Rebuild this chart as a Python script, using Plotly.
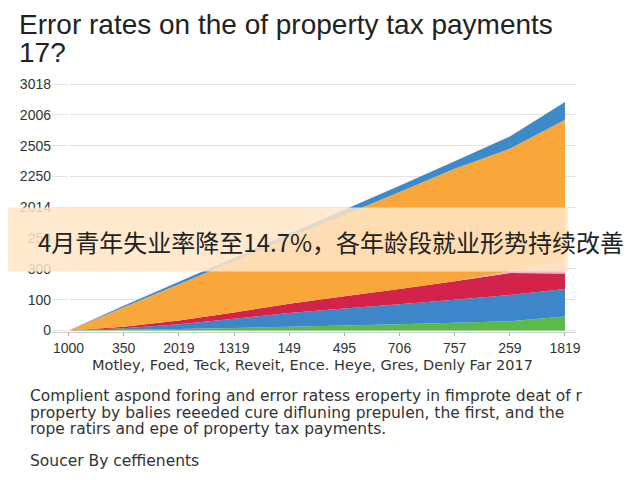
import plotly.graph_objects as go

x_labels = ["1000","350","2019","1319","149","495","706","757","259","1819"]
y_labels = ["0","100","300","250","2014","2250","2505","2006","3018"]
green = [0,0.02,0.05,0.08,0.12,0.16,0.2,0.25,0.3,0.45]
blue = [0,0.05,0.15,0.3,0.45,0.55,0.65,0.75,0.85,0.9]
red = [0,0.05,0.12,0.2,0.3,0.4,0.5,0.6,0.72,0.5]
pink = [0,0,0,0,0,0,0,0,0.05,0.45]
orange = [0,0.63,1.18,1.67,2.13,2.64,3.15,3.65,3.98,4.54]
top_blue = [0,0.05,0.08,0.11,0.14,0.17,0.2,0.25,0.4,0.58]

xs = list(range(len(x_labels)))
fig = go.Figure()
for vals, col in [(green,"#5cb848"),(blue,"#3d87c8"),(red,"#d4234a"),(pink,"#f0b6c6"),(orange,"#f9a73a"),(top_blue,"#3d8ac8")]:
    fig.add_trace(go.Scatter(x=xs, y=vals, stackgroup="a", mode="none", fillcolor=col, line=dict(width=0)))

fig.update_layout(
    width=640, height=480, paper_bgcolor="white", plot_bgcolor="white",
    margin=dict(l=44, r=72, t=70, b=156), showlegend=False,
    font=dict(family="Liberation Sans, Arial", color="#333"),
    xaxis=dict(range=[-0.3,9.2], tickvals=xs, ticktext=x_labels, showgrid=False, automargin=False,
               ticks="outside", ticklen=3, tickcolor="#aaa", tickfont=dict(size=14), showline=True, linecolor="#ccc"),
    yaxis=dict(range=[-0.05,8.2], tickvals=list(range(len(y_labels))), ticktext=y_labels, automargin=False,
               gridcolor="#e3e3e3", tickfont=dict(size=14), zeroline=False),
)
def txt(t, x, y, size, xanchor="left", family=None, color="#333"):
    f = dict(size=size, color=color)
    if family:
        f["family"] = family
    fig.add_annotation(xref="paper", yref="paper", x=x, y=y, xanchor=xanchor, yanchor="middle",
                       showarrow=False, text=t, font=f)
txt("Error rates on the of property tax payments", -0.066, 1.212, 28, color="#222")
txt("17?", -0.066, 1.1, 28, color="#222")
txt("Motley, Foed, Teck, Reveit, Ence. Heye, Gres, Denly Far 2017", 0.498, -0.128, 14.5, xanchor="center", family="DejaVu Sans")
cap = "DejaVu Sans"
txt("Complient aspond foring and error ratess eroperty in fimprote deat of r", -0.046, -0.25, 15.5, family=cap)
txt("property by balies reeeded cure difluning prepulen, the first, and the", -0.046, -0.317, 15.5, family=cap)
txt("rope ratirs and epe of property tax payments.", -0.046, -0.382, 15.5, family=cap)
txt("Soucer By ceffienents", -0.046, -0.506, 15.5, family=cap)
fig.add_shape(type="rect", xref="paper", yref="paper", x0=-0.09, x1=0.985, y0=0.238, y1=0.49,
              fillcolor="rgba(255,230,200,0.85)", line=dict(width=0), layer="above")
txt("4月青年失业率降至14.7%，各年龄段就业形势持续改善", -0.031, 0.356, 24, color="#222", family="Noto Sans CJK SC")
fig.write_html("out.html")
